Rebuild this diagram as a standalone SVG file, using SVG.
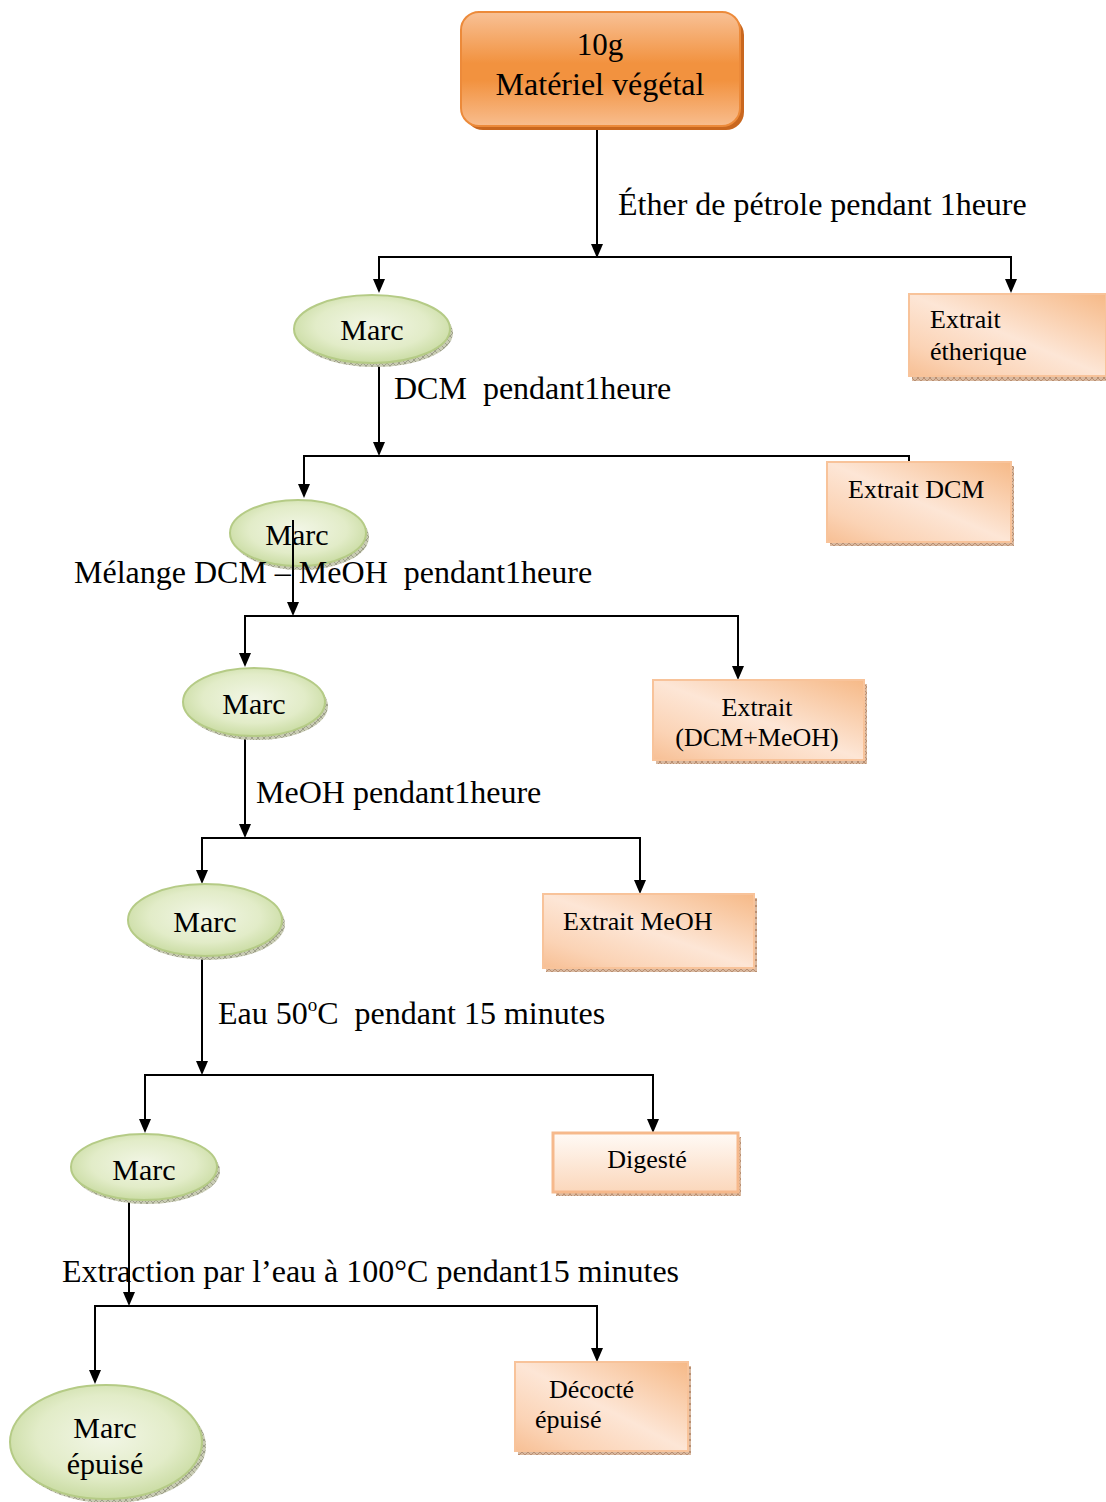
<svg xmlns="http://www.w3.org/2000/svg" width="1106" height="1502" viewBox="0 0 1106 1502">
<defs>
<linearGradient id="gTop" x1="0" y1="0" x2="0" y2="1">
<stop offset="0" stop-color="#f8c196"/>
<stop offset="0.45" stop-color="#f2923f"/>
<stop offset="0.6" stop-color="#f2923f"/>
<stop offset="1" stop-color="#f8bd8e"/>
</linearGradient>
<linearGradient id="gBox" x1="1" y1="0" x2="0" y2="1">
<stop offset="0" stop-color="#f6b987"/>
<stop offset="0.5" stop-color="#fde6d6"/>
<stop offset="0.8" stop-color="#fbd3b5"/>
<stop offset="1" stop-color="#f7bf94"/>
</linearGradient>
<linearGradient id="gDig" x1="0" y1="0" x2="0" y2="1">
<stop offset="0" stop-color="#fffaf6"/>
<stop offset="1" stop-color="#fbd7bb"/>
</linearGradient>
<radialGradient id="gEll" cx="0.5" cy="0.45" r="0.6">
<stop offset="0" stop-color="#f2f6e6"/>
<stop offset="0.6" stop-color="#e2ecc8"/>
<stop offset="1" stop-color="#c4d89a"/>
</radialGradient>
<pattern id="hBox" width="6" height="6" patternUnits="userSpaceOnUse">
<rect width="6" height="6" fill="#d9b9a0"/>
<path d="M0 0L6 6M6 0L0 6" stroke="#b98f72" stroke-width="1"/>
</pattern>
<pattern id="hEll" width="6" height="6" patternUnits="userSpaceOnUse">
<rect width="6" height="6" fill="#c9ccb4"/>
<path d="M0 0L6 6M6 0L0 6" stroke="#9ea08a" stroke-width="1"/>
</pattern>
</defs>
<style>
.t{font-family:"Liberation Serif","Times New Roman",serif;fill:#000;white-space:pre}
.lbl{font-size:32px}
.marc{font-size:30px;text-anchor:middle}
.bt{font-size:26px}
.ell{fill:url(#gEll);stroke:#b5cb86;stroke-width:2}
.ells{fill:url(#hEll)}
.box{fill:url(#gBox);stroke:#f8c39a;stroke-width:2}
.boxs{fill:url(#hBox)}
.c{fill:none;stroke:#000;stroke-width:2}
.ah{fill:#000}
</style>

<g id="connectors">
<path class="c" d="M597 124V257"/>
<path class="ah" d="M591 244L603 244L597 258Z"/>
<path class="c" d="M379 282V257H1011V282"/>
<path class="ah" d="M373 279L385 279L379 293Z M1005 279L1017 279L1011 293Z"/>
<path class="c" d="M379 362V446"/>
<path class="ah" d="M373 442L385 442L379 456Z"/>
<path class="c" d="M304 487V456H909V462"/>
<path class="ah" d="M298 484L310 484L304 498Z"/>
<path class="c" d="M293 520V606"/>
<path class="ah" d="M287 602L299 602L293 616Z"/>
<path class="c" d="M245 656V616H738V669"/>
<path class="ah" d="M239 653L251 653L245 667Z M732 666L744 666L738 680Z"/>
<path class="c" d="M245 735V828"/>
<path class="ah" d="M239 824L251 824L245 838Z"/>
<path class="c" d="M202 873V838H640V883"/>
<path class="ah" d="M196 870L208 870L202 884Z M634 880L646 880L640 894Z"/>
<path class="c" d="M202 957V1065"/>
<path class="ah" d="M196 1061L208 1061L202 1075Z"/>
<path class="c" d="M145 1122V1075H653V1122"/>
<path class="ah" d="M139 1119L151 1119L145 1133Z M647 1119L659 1119L653 1133Z"/>
<path class="c" d="M129 1197V1296"/>
<path class="ah" d="M123 1292L135 1292L129 1306Z"/>
<path class="c" d="M95 1373V1306H597V1351"/>
<path class="ah" d="M89 1370L101 1370L95 1384Z M591 1348L603 1348L597 1362Z"/>
</g>

<g id="n-top">
<rect x="465" y="17" width="279" height="113" rx="18" fill="#c9671f"/>
<rect x="461" y="12" width="279" height="114" rx="18" fill="url(#gTop)" stroke="#ec8a3a" stroke-width="2"/>
<text class="t" x="600" y="55" font-size="31" text-anchor="middle">10g</text>
<text class="t" x="600" y="95" font-size="32" text-anchor="middle">Matériel végétal</text>
</g>

<text class="t lbl" x="618" y="215">Éther de pétrole pendant 1heure</text>

<g id="n-marc1">
<ellipse class="ells" cx="375" cy="333" rx="78" ry="34"/>
<ellipse class="ell" cx="372" cy="329" rx="78" ry="34"/>
<text class="t marc" x="372" y="340">Marc</text>
</g>

<g id="n-ether">
<rect class="boxs" x="912" y="297" width="194" height="84"/>
<rect class="box" x="909" y="294" width="197" height="82"/>
<text class="t bt" x="930" y="328">Extrait</text>
<text class="t bt" x="930" y="360">étherique</text>
</g>

<text class="t lbl" x="394" y="399">DCM  pendant1heure</text>

<g id="n-dcm">
<rect class="boxs" x="830" y="466" width="184" height="80"/>
<rect class="box" x="827" y="462" width="184" height="80"/>
<text class="t bt" x="848" y="498">Extrait DCM</text>
</g>

<g id="n-marc2">
<ellipse class="ells" cx="301" cy="537" rx="68" ry="33"/>
<ellipse class="ell" cx="298" cy="533" rx="68" ry="33"/>
<text class="t marc" x="297" y="545">Marc</text>
</g>

<text class="t lbl" x="74" y="583">Mélange DCM – MeOH  pendant1heure</text>
<path class="c" d="M293 520V600"/>

<g id="n-marc3">
<ellipse class="ells" cx="257" cy="706" rx="71" ry="34"/>
<ellipse class="ell" cx="254" cy="702" rx="71" ry="34"/>
<text class="t marc" x="254" y="714">Marc</text>
</g>

<g id="n-dcmmeoh">
<rect class="boxs" x="656" y="684" width="211" height="80"/>
<rect class="box" x="653" y="680" width="211" height="80"/>
<text class="t bt" x="757" y="716" text-anchor="middle">Extrait</text>
<text class="t bt" x="757" y="746" text-anchor="middle">(DCM+MeOH)</text>
</g>

<text class="t lbl" x="256" y="803">MeOH pendant1heure</text>

<g id="n-marc4">
<ellipse class="ells" cx="208" cy="924" rx="77" ry="36"/>
<ellipse class="ell" cx="205" cy="920" rx="77" ry="36"/>
<text class="t marc" x="205" y="932">Marc</text>
</g>

<g id="n-meoh">
<rect class="boxs" x="546" y="898" width="211" height="74"/>
<rect class="box" x="543" y="894" width="211" height="74"/>
<text class="t bt" x="563" y="930">Extrait MeOH</text>
</g>

<text class="t lbl" x="218" y="1024">Eau 50<tspan font-size="19" dy="-13">o</tspan><tspan dy="13">C  pendant 15 minutes</tspan></text>

<g id="n-marc5">
<ellipse class="ells" cx="147" cy="1171" rx="73" ry="33"/>
<ellipse class="ell" cx="144" cy="1167" rx="73" ry="33"/>
<text class="t marc" x="144" y="1180">Marc</text>
</g>

<g id="n-digeste">
<rect class="boxs" x="556" y="1137" width="185" height="59"/>
<rect fill="url(#gDig)" stroke="#f6b98c" stroke-width="3" x="553" y="1133" width="185" height="59"/>
<text class="t bt" x="647" y="1168" text-anchor="middle">Digesté</text>
</g>

<text class="t lbl" x="62" y="1282">Extraction par l’eau à 100°C pendant15 minutes</text>

<g id="n-marcepuise">
<ellipse class="ells" cx="110" cy="1446" rx="96" ry="57"/>
<ellipse class="ell" cx="106" cy="1442" rx="96" ry="57"/>
<text class="t marc" x="105" y="1438">Marc</text>
<text class="t marc" x="105" y="1474">épuisé</text>
</g>

<g id="n-decocte">
<rect class="boxs" x="518" y="1366" width="173" height="89"/>
<rect class="box" x="515" y="1362" width="173" height="89"/>
<text class="t bt" x="549" y="1398">Décocté</text>
<text class="t bt" x="535" y="1428">épuisé</text>
</g>
</svg>
